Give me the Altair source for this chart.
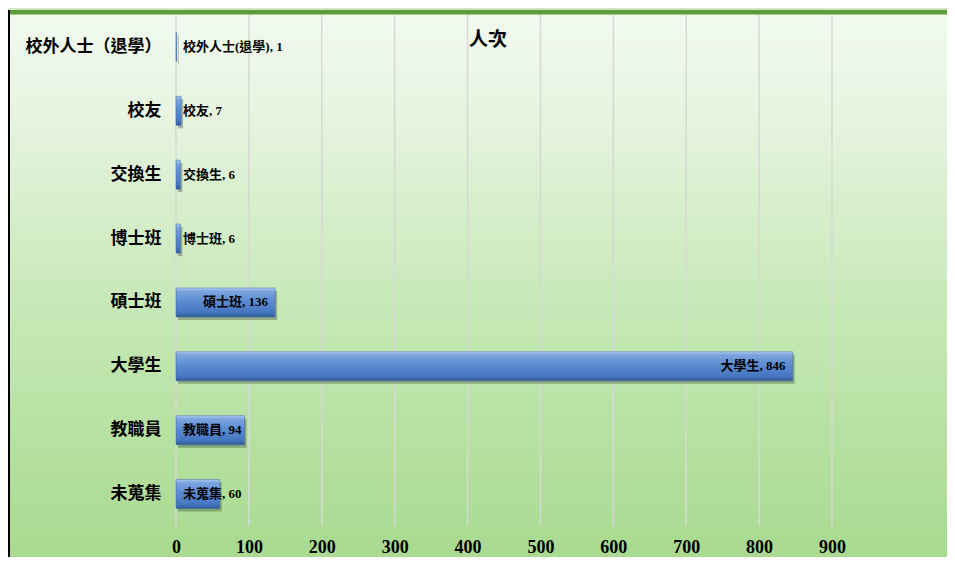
import altair as alt
import pandas as pd

# ---- data ----
categories = ["校外人士（退學）", "校友", "交換生", "博士班", "碩士班", "大學生", "教職員", "未蒐集"]
label_names = ["校外人士(退學)", "校友", "交換生", "博士班", "碩士班", "大學生", "教職員", "未蒐集"]
values = [1, 7, 6, 6, 136, 846, 94, 60]
tick_values = [0, 100, 200, 300, 400, 500, 600, 700, 800, 900]
title_text = "人次"

df = pd.DataFrame({"cat": categories, "name": label_names, "value": values})
grid_df = pd.DataFrame({"t": tick_values})

# ---- layout ----
W, H = 656, 511
PL, PT, PR, PB = 168, 7, 115, 31
FONT = "Liberation Serif, Noto Sans CJK TC, serif"

x_scale = alt.Scale(domain=[0, 900], nice=False, zero=True)
x_axis = alt.Axis(values=tick_values, grid=False, domain=False, ticks=False,
                  labelFont=FONT, labelFontSize=18, labelFontWeight="bold",
                  labelColor="black", labelPadding=12, labelFlush=False,
                  labelOverlap=False, title=None, zindex=2)
y_enc = alt.Y("cat:N", sort=categories,
              scale=alt.Scale(paddingInner=0, paddingOuter=0),
              axis=alt.Axis(domain=False, ticks=False, labelFont=FONT,
                            labelFontSize=17, labelFontWeight="bold",
                            labelColor="black", labelPadding=15, title=None,
                            zindex=2))

one = alt.Data(values=[{"a": 1}])

bg = alt.Chart(one).mark_rect(
    fill=alt.Gradient(gradient="linear", x1=0, x2=0, y1=0, y2=1,
                      stops=[alt.GradientStop(color="#f2faf0", offset=0),
                             alt.GradientStop(color="#e6f4e0", offset=0.2),
                             alt.GradientStop(color="#c6e8b6", offset=0.55),
                             alt.GradientStop(color="#a8da90", offset=1)])
).encode(x=alt.value(-PL), x2=alt.value(W + PR), y=alt.value(-PT), y2=alt.value(H + PB))

top_band = alt.Chart(one).mark_rect(color="#cfe8c0").encode(
    x=alt.value(-PL), x2=alt.value(W + PR), y=alt.value(-PT), y2=alt.value(-5))
top_line = alt.Chart(one).mark_rect(color="#5f9c3d").encode(
    x=alt.value(-PL), x2=alt.value(W + PR), y=alt.value(-5), y2=alt.value(-1))
top_line2 = alt.Chart(one).mark_rect(color="#9fd07f").encode(
    x=alt.value(-PL), x2=alt.value(W + PR), y=alt.value(-1), y2=alt.value(0))
left_border = alt.Chart(one).mark_rect(color="#000000").encode(
    x=alt.value(-PL), x2=alt.value(-PL + 2), y=alt.value(-5), y2=alt.value(H + PB))

grid = alt.Chart(grid_df).mark_rule(color="#d6d9d3", strokeWidth=1.5).encode(
    x=alt.X("t:Q", scale=x_scale, axis=x_axis))

base = alt.Chart(df)

shadow = base.mark_bar(size=29, color="#2f3f2a", opacity=0.35, xOffset=2, yOffset=3).encode(
    x=alt.X("value:Q", scale=x_scale, axis=x_axis), y=y_enc)

bars = base.mark_bar(
    size=29,
    fill=alt.Gradient(gradient="linear", x1=0, x2=0, y1=0, y2=1,
                      stops=[alt.GradientStop(color="#b4cff2", offset=0),
                             alt.GradientStop(color="#7ea6e0", offset=0.1),
                             alt.GradientStop(color="#5b8bd3", offset=0.45),
                             alt.GradientStop(color="#4676bf", offset=0.85),
                             alt.GradientStop(color="#2f5a99", offset=1)]),
    stroke="#3d68a8", strokeWidth=0.5
).encode(x=alt.X("value:Q", scale=x_scale, axis=x_axis), y=y_enc)

labeled = base.transform_calculate(label="datum.name + ', ' + datum.value")

labels_in = labeled.transform_filter("datum.value > 100").mark_text(
    align="right", baseline="middle", dx=-7, font=FONT, fontSize=13,
    fontWeight="bold", color="black"
).encode(x=alt.X("value:Q", scale=x_scale, axis=x_axis), y=y_enc, text="label:N")

labels_out = labeled.transform_filter("datum.value <= 100").mark_text(
    align="left", baseline="middle", dx=7, font=FONT, fontSize=13,
    fontWeight="bold", color="black"
).encode(x=alt.datum(0, scale=x_scale), y=y_enc, text="label:N")

title = alt.Chart(alt.Data(values=[{"t": title_text}])).mark_text(
    align="center", baseline="middle", font=FONT, fontSize=19,
    fontWeight="bold", color="black"
).encode(x=alt.value(312), y=alt.value(25), text="t:N")

chart = alt.layer(
    bg, top_band, top_line, top_line2, left_border, grid,
    shadow, bars, labels_in, labels_out, title
).properties(
    width=W, height=H,
    autosize=alt.AutoSizeParams(type="none"),
    padding={"left": PL, "top": PT, "right": PR, "bottom": PB},
    background="#a8da90"
).configure_view(stroke=None)

chart.save("out.html", embed_options={"renderer": "svg", "actions": False})
